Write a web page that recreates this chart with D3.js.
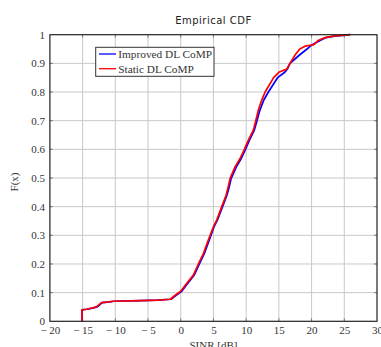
<!DOCTYPE html>
<html>
<head>
<meta charset="utf-8">
<script src="https://cdn.jsdelivr.net/npm/d3@7"></script>
<style>
html,body{margin:0;padding:0;background:#fff;}
svg{display:block;}
</style>
</head>
<body>
<script>
// ---- data ----
const title = "Empirical CDF";
const xLabel = "SINR [dB]";
const yLabel = "F(x)";
const xTicks = [-20, -15, -10, -5, 0, 5, 10, 15, 20, 25, 30];
const yTicks = [0, 0.1, 0.2, 0.3, 0.4, 0.5, 0.6, 0.7, 0.8, 0.9, 1];
const seriesNames = ["Improved DL CoMP", "Static DL CoMP"];
const seriesColors = ["#0000ff", "#ff0000"];
// CDF levels
const cdfLevels = [0, 0.04, 0.042, 0.047, 0.051, 0.065, 0.067, 0.070, 0.072, 0.074, 0.077, 0.091, 0.105, 0.132, 0.161, 0.20, 0.236, 0.283, 0.33, 0.353, 0.40, 0.44, 0.463, 0.498, 0.539, 0.568, 0.60, 0.632, 0.667, 0.70, 0.737, 0.772, 0.80, 0.85, 0.87, 0.88, 0.90, 0.93, 0.95, 0.96, 0.965, 0.97, 0.98, 0.99, 0.995, 1.0];
// SINR values (dB) at those levels
const improvedSINR = [-15.1, -15.1, -14.4, -13.3, -12.7, -12.0, -11.2, -10.2, -6.2, -3.5, -1.5, -0.7, 0.15, 1.05, 2.05, 2.85, 3.6, 4.35, 5.1, 5.6, 6.4, 7.05, 7.35, 7.7, 8.5, 9.25, 9.9, 10.5, 11.25, 11.65, 12.1, 12.7, 13.4, 14.8, 15.95, 16.3, 16.7, 18.2, 19.3, 19.8, 20.1, 20.5, 21.3, 22.2, 23.5, 25.9];
const staticSINR = [-15.1, -15.1, -14.4, -13.4, -12.85, -12.1, -11.3, -10.3, -6.2, -3.5, -1.6, -0.85, 0, 0.9, 1.93, 2.7, 3.46, 4.2, 5.0, 5.5, 6.27, 6.93, 7.19, 7.54, 8.3, 9.07, 9.73, 10.34, 11.1, 11.47, 11.87, 12.38, 12.9, 14.2, 15.07, 16.2, 16.7, 17.5, 18.2, 19.0, 20.3, 20.6, 21.0, 22.07, 23.3, 25.9];

// ---- layout ----
const W = 381, H = 347;
const L = 49.9, R = 377, T = 34.7, B = 321.3;

const svg = d3.select("body").append("svg").attr("width", W).attr("height", H);

const x = d3.scaleLinear().domain([-20, 30]).range([L, R]);
const y = d3.scaleLinear().domain([0, 1]).range([B, T]);

const serif = "'Liberation Serif', 'DejaVu Serif', serif";

// grid
const grid = svg.append("g").attr("stroke", "#c8c8c8").attr("stroke-width", 1);
xTicks.slice(1, -1).forEach(t => {
  grid.append("line").attr("x1", x(t)).attr("x2", x(t)).attr("y1", T).attr("y2", B);
});
yTicks.slice(1, -1).forEach(t => {
  grid.append("line").attr("x1", L).attr("x2", R).attr("y1", y(t)).attr("y2", y(t));
});

// inner ticks
const tk = svg.append("g").attr("stroke", "#7a7a7a").attr("stroke-width", 1);
xTicks.slice(1, -1).forEach(t => {
  tk.append("line").attr("x1", x(t)).attr("x2", x(t)).attr("y1", B).attr("y2", B - 3);
  tk.append("line").attr("x1", x(t)).attr("x2", x(t)).attr("y1", T).attr("y2", T + 3);
});
yTicks.slice(1, -1).forEach(t => {
  tk.append("line").attr("x1", L).attr("x2", L + 3).attr("y1", y(t)).attr("y2", y(t));
  tk.append("line").attr("x1", R).attr("x2", R - 3).attr("y1", y(t)).attr("y2", y(t));
});

// axes labels via d3 axes (no domain/ticks lines)
const fmtX = d => d < 0 ? "\u2212 " + Math.abs(d) : String(d);
const fmtY = d => (d === 0 || d === 1) ? String(d) : d.toFixed(1);

const xAxis = svg.append("g").attr("transform", `translate(0,${B})`)
  .call(d3.axisBottom(x).tickValues(xTicks).tickFormat(fmtX).tickSize(0).tickPadding(5));
xAxis.select(".domain").remove();
xAxis.selectAll("text").attr("font-family", serif).attr("font-size", 11).attr("fill", "#333");

const yAxis = svg.append("g").attr("transform", `translate(${L},0)`)
  .call(d3.axisLeft(y).tickValues(yTicks).tickFormat(fmtY).tickSize(0).tickPadding(5));
yAxis.select(".domain").remove();
yAxis.selectAll("text").attr("font-family", serif).attr("font-size", 11).attr("fill", "#333");

// series
const line = d3.line().x(d => x(d[0])).y(d => y(d[1]));
const seriesData = [improvedSINR, staticSINR];
seriesData.forEach((xs, i) => {
  const pts = [[xs[0], 0]].concat(xs.map((v, k) => [v, cdfLevels[k]]));
  svg.append("path").datum(pts)
    .attr("d", line)
    .attr("fill", "none")
    .attr("stroke", seriesColors[i])
    .attr("stroke-width", 1.7)
    .attr("stroke-linejoin", "round");
});

// frame
svg.append("rect").attr("x", L).attr("y", T).attr("width", R - L).attr("height", B - T)
  .attr("fill", "none").attr("stroke", "#222").attr("stroke-width", 1.2);

// title
svg.append("text").attr("x", (L + R) / 2).attr("y", 23.5).attr("text-anchor", "middle")
  .attr("font-family", "'DejaVu Sans', sans-serif").attr("font-size", 10)
  .attr("letter-spacing", 0.5).attr("fill", "#222").text(title);

// x label
svg.append("text").attr("x", (L + R) / 2).attr("y", 349).attr("text-anchor", "middle")
  .attr("font-family", serif).attr("font-size", 11).attr("fill", "#333").text(xLabel);

// y label
svg.append("text").attr("transform", `translate(17.5,${(T + B) / 2 + 4}) rotate(-90)`)
  .attr("text-anchor", "middle")
  .attr("font-family", serif).attr("font-size", 11).attr("fill", "#333").text(yLabel);

// legend
const lg = svg.append("g");
lg.append("rect").attr("x", 95.7).attr("y", 47.3).attr("width", 118.3).attr("height", 29)
  .attr("fill", "#fff").attr("stroke", "#333").attr("stroke-width", 1);
const rowY = [54, 68.7];
seriesNames.forEach((n, i) => {
  lg.append("line").attr("x1", 99).attr("x2", 116).attr("y1", rowY[i]).attr("y2", rowY[i])
    .attr("stroke", seriesColors[i]).attr("stroke-width", 1.3);
  lg.append("text").attr("x", 118.3).attr("y", rowY[i] + 3.8)
    .attr("font-family", serif).attr("font-size", 11.3).attr("fill", "#333").text(n);
});
</script>
</body>
</html>
